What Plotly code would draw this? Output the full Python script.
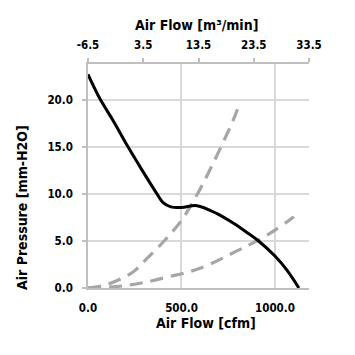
import plotly.graph_objects as go

# Fan curve (black)
fan_cfm = [0, 64, 134, 214, 290, 369, 400, 440, 500, 583, 690, 776, 850, 909, 1000, 1064, 1128]
fan_p = [22.7, 20.1, 17.8, 15.0, 12.5, 10.0, 9.1, 8.65, 8.55, 8.75, 7.9, 6.9, 5.9, 5.05, 3.4, 1.9, 0.0]

# System impedance curves (grey dashed)
sys1_cfm = [0, 107, 241, 294, 412, 497, 583, 668, 776, 805]
sys1_p = [0.0, 0.4, 1.7, 2.7, 5.1, 7.1, 9.9, 13.2, 17.8, 19.3]

sys2_cfm = [0, 150, 278, 422, 599, 813, 883, 957, 1096, 1100]
sys2_p = [0.0, 0.15, 0.5, 1.15, 2.1, 4.1, 4.8, 5.6, 7.5, 7.6]

y_ticks = [0, 5, 10, 15, 20]
y_tick_labels = ["0.0", "5.0", "10.0", "15.0", "20.0"]
x_ticks = [0, 500, 1000]
x_tick_labels = ["0.0", "500.0", "1000.0"]
top_ticks = [-6.5, 3.5, 13.5, 23.5, 33.5]
top_tick_labels = ["-6.5", "3.5", "13.5", "23.5", "33.5"]

FONT = "DejaVu Sans Condensed"
grey = "#a6a6a6"
axis_grey = "#bfbfbf"

fig = go.Figure()
for xs, ys in [(sys1_cfm, sys1_p), (sys2_cfm, sys2_p)]:
    fig.add_trace(go.Scatter(x=xs, y=ys, mode="lines",
                             line=dict(color=grey, width=3.2, dash="13px,8px", shape="spline"),
                             hoverinfo="skip", showlegend=False))
fig.add_trace(go.Scatter(x=fan_cfm, y=fan_p, mode="lines",
                         line=dict(color="black", width=3, shape="spline", smoothing=1.0),
                         hoverinfo="skip", showlegend=False))
# invisible trace to attach the top axis
fig.add_trace(go.Scatter(x=[top_ticks[0], top_ticks[-1]], y=[0, 0], xaxis="x2", mode="markers",
                         marker=dict(opacity=0), hoverinfo="skip", showlegend=False))

tickfont = dict(family=FONT, size=11.5, color="black", weight="bold")
titlefont = dict(family=FONT, size=14, color="black", weight="bold")

# page body has an 8px margin, so the figure starts at (8, 8) in the window
OFF = 8
W, H = 355, 355
l, r, t, b = 88 - OFF, 355 - 309 + OFF, 64 - OFF, 355 - 288 + OFF
pw, ph = W - l - r, H - t - b

fig.update_layout(
    width=W, height=H,
    margin=dict(l=l, r=r, t=t, b=b),
    paper_bgcolor="white", plot_bgcolor="white",
    showlegend=False,
    xaxis=dict(range=[0, 1182], tickvals=x_ticks, ticktext=x_tick_labels,
               showgrid=True, gridcolor="#d9d9d9", gridwidth=1.5,
               showline=True, linecolor=axis_grey, linewidth=1.5,
               ticks="outside", ticklen=4, tickcolor="rgba(0,0,0,0)",
               ticklabelstandoff=4, zeroline=False, automargin=False,
               tickfont=tickfont),
    xaxis2=dict(range=[top_ticks[0], top_ticks[-1]], tickvals=top_ticks, ticktext=top_tick_labels,
                overlaying="x", side="top", anchor="y",
                showgrid=False, showline=True, linecolor=axis_grey, linewidth=1.5,
                ticks="outside", ticklen=4, tickcolor=axis_grey, tickwidth=1.5,
                ticklabelstandoff=5, zeroline=False, automargin=False, tickfont=tickfont),
    yaxis=dict(range=[0, 23.8], tickvals=y_ticks, ticktext=y_tick_labels,
               showgrid=True, gridcolor="#d9d9d9", gridwidth=1.5,
               showline=True, linecolor=axis_grey, linewidth=1.5,
               ticks="outside", ticklen=4, tickcolor=axis_grey, tickwidth=1.5,
               ticklabelstandoff=7, zeroline=False, automargin=False, tickfont=tickfont),
)

# axis titles placed at their window-pixel positions
titles = [
    ("Air Flow [cfm]", 206, 323, 0),
    ("Air Flow [m³/min]", 196, 25, 0),
    ("Air Pressure [mm-H2O]", 22, 208, -90),
]
for text, px, py, ang in titles:
    fig.add_annotation(text=text, xref="paper", yref="paper",
                       x=(px - OFF - l) / pw, y=1 - (py - OFF - t) / ph,
                       xanchor="center", yanchor="middle", textangle=ang,
                       showarrow=False, font=titlefont)

fig.write_html("out.html")
